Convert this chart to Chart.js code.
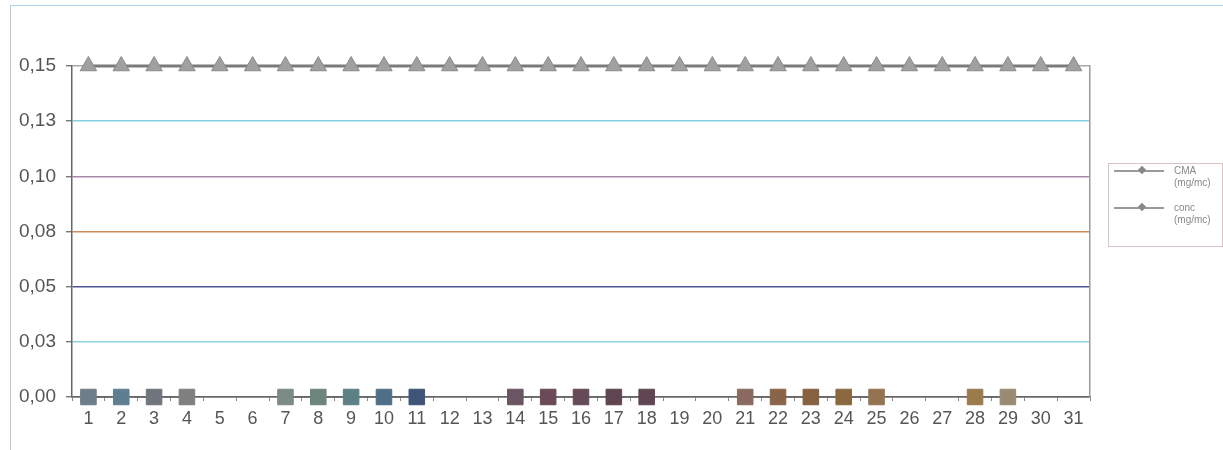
<!DOCTYPE html>
<html>
<head>
<meta charset="utf-8">
<script src="https://cdn.jsdelivr.net/npm/chart.js@4.4.0/dist/chart.umd.min.js"></script>
<style>
  html, body { margin: 0; padding: 0; background: #fff; }
  #wrap { position: relative; width: 1223px; height: 450px; overflow: hidden; }
  #frame { position: absolute; left: 10px; top: 5px; right: 0; bottom: 0;
           border-left: 1px solid #c4c4cc; border-top: 1px solid #a9d6e6; }
  #legend { position: absolute; left: 1108px; top: 163px; width: 113px; height: 82px;
            border: 1px solid #d8c4c4; font-family: "Liberation Sans", Arial, sans-serif;
            font-size: 10px; color: #888; line-height: 12px; }
  .item { position: absolute; left: 5px; }
  .line { position: absolute; left: 0; top: 5px; width: 50px; height: 2px; background: #9a9a9a; }
  .dot { position: absolute; left: 25px; top: 2px; width: 6px; height: 6px; background: #888;
         transform: rotate(45deg); }
  .txt { position: absolute; left: 60px; top: 0; white-space: nowrap; }
</style>
</head>
<body>
<div id="wrap">
  <div id="frame"></div>
  <canvas id="chart" width="1223" height="450"></canvas>
  <div id="legend"></div>
</div>
<script>
const days = Array.from({length: 31}, (_, i) => String(i + 1));
const cma = [0.15, 0.15, 0.15, 0.15, 0.15, 0.15, 0.15, 0.15, 0.15, 0.15, 0.15,
             0.15, 0.15, 0.15, 0.15, 0.15, 0.15, 0.15, 0.15, 0.15, 0.15, 0.15,
             0.15, 0.15, 0.15, 0.15, 0.15, 0.15, 0.15, 0.15, 0.15];
const conc = [0, 0, 0, 0, null, null, 0, 0, 0, 0, 0,
              null, null, 0, 0, 0, 0, 0, null, null, 0, 0,
              0, 0, 0, null, null, 0, 0, null, null];
const yTickLabels = ['0,00', '0,03', '0,05', '0,08', '0,10', '0,13', '0,15'];
const seriesNames = [['CMA', '(mg/mc)'], ['conc', '(mg/mc)']];

// scan tints of the markers and grid lines
const squareColors = ['#6e7d8a', '#5e7e92', '#6f757d', '#7f7f80', '#888', '#888',
  '#7b8a87', '#6e847f', '#5d7f86', '#4f6f88', '#3f5577', '#888', '#888',
  '#6a5562', '#6a4a56', '#654a57', '#5f4550', '#604652', '#888', '#888',
  '#8a6a60', '#8a6448', '#86603f', '#8c6840', '#947450', '#888', '#888',
  '#9b7a4c', '#9a8a74', '#888', '#888'];
const gridColors = ['#777', '#8fd2e2', '#4f5496', '#d08a5a', '#a88aa8', '#86d0e0', '#aaa'];

const legendEl = document.getElementById('legend');
seriesNames.forEach((n, i) => {
  const d = document.createElement('div');
  d.className = 'item';
  d.style.top = (1 + i * 37) + 'px';
  d.innerHTML = '<div class="line"></div><div class="dot"></div><div class="txt">' +
    n[0] + '<br>' + n[1] + '</div>';
  legendEl.appendChild(d);
});

new Chart(document.getElementById('chart'), {
  type: 'line',
  data: {
    labels: days,
    datasets: [
      {
        label: 'CMA (mg/mc)',
        data: cma,
        borderColor: '#7a7a7a',
        borderWidth: 3,
        pointStyle: 'triangle',
        pointRadius: 9.5,
        pointBackgroundColor: '#a0a0a0',
        pointBorderColor: '#8a8a8a',
        pointBorderWidth: 1,
        clip: false
      },
      {
        label: 'conc (mg/mc)',
        data: conc,
        borderColor: '#6a6a6a',
        borderWidth: 1.5,
        spanGaps: false,
        pointStyle: 'rect',
        pointRadius: 11,
        pointBackgroundColor: squareColors,
        pointBorderColor: squareColors,
        pointBorderWidth: 1,
        clip: false
      }
    ]
  },
  options: {
    responsive: false,
    animation: false,
    layout: { padding: { top: 66, right: 133, left: 0, bottom: 0 } },
    plugins: { legend: { display: false }, tooltip: { enabled: false } },
    scales: {
      x: {
        offset: true,
        grid: { offset: true, drawOnChartArea: false, drawTicks: true, tickLength: 4, color: '#888' },
        border: { color: '#666', width: 1.5 },
        ticks: { color: '#555', padding: 7, maxRotation: 0, autoSkip: false,
                 font: { family: 'Liberation Sans', size: 18 } },
        afterFit: s => { s.height = 53; }
      },
      y: {
        min: 0, max: 0.15,
        ticks: { stepSize: 0.025, color: '#555', padding: 10,
                 font: { family: 'Liberation Sans', size: 19 },
                 callback: (v, i) => yTickLabels[i] },
        grid: { color: ctx => gridColors[ctx.index] || '#aaa', lineWidth: 1.4,
                drawTicks: true, tickLength: 6, tickColor: '#777' },
        border: { color: '#666', width: 1.5 },
        afterFit: s => { s.width = 72; }
      },
      yR: {
        position: 'right',
        min: 0, max: 0.15,
        grid: { drawOnChartArea: false, drawTicks: false },
        ticks: { display: false },
        border: { color: '#9a9a9a', width: 1.5, dash: [2, 1] },
        afterFit: s => { s.width = 0; }
      }
    }
  }
});
</script>
</body>
</html>
